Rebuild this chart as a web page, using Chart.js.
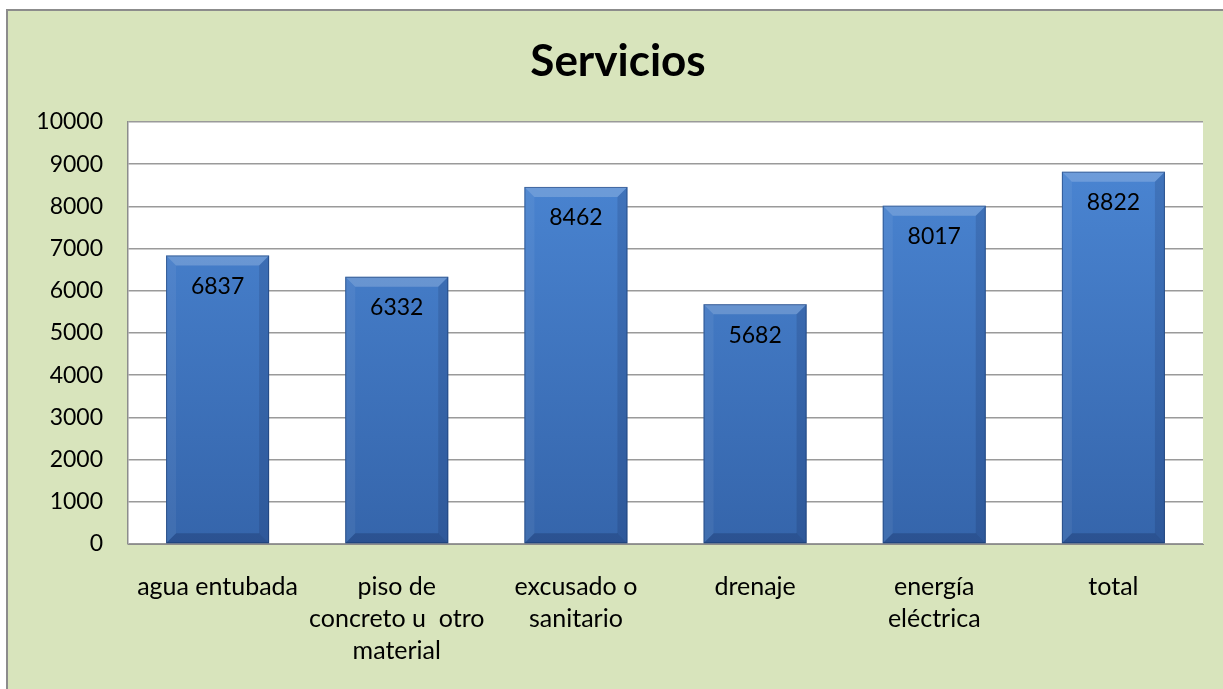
<!DOCTYPE html>
<html>
<head>
<meta charset="utf-8">
<script src="https://cdn.jsdelivr.net/npm/chart.js@4"></script>
<style>
  html, body { margin: 0; padding: 0; background: #ffffff; width: 1223px; height: 689px; overflow: hidden; }
  #frame { position: absolute; left: 6px; top: 9px; width: 1240px; height: 700px; background: #D8E4BC; border-left: 2px solid #8c8c8c; border-top: 2px solid #8c8c8c; }
  #wrap { position: absolute; left: 0; top: 0; width: 1223px; height: 689px; }
</style>
</head>
<body>
<div id="frame"></div>
<div id="wrap"><canvas id="c" width="1223" height="689"></canvas></div>
<script>
const categories = [
  "agua entubada",
  ["piso de", "concreto u  otro", "material"],
  ["excusado o", "sanitario"],
  "drenaje",
  ["energía", "eléctrica"],
  "total"
];
const values = [6837, 6332, 8462, 5682, 8017, 8822];
const titleText = "Servicios";
const yMin = 0, yMax = 10000, yStep = 1000;

const FONT = "Lato, 'Open Sans', sans-serif";

const plotBg = {
  id: 'plotBg',
  beforeDraw(chart) {
    const { ctx, chartArea: a } = chart;
    ctx.save();
    ctx.fillStyle = '#ffffff';
    ctx.fillRect(a.left, a.top, a.right - a.left, a.bottom - a.top);
    ctx.restore();
  }
};

const titlePlugin = {
  id: 'titleText',
  afterDraw(chart) {
    const { ctx } = chart;
    ctx.save();
    ctx.fillStyle = '#000000';
    ctx.font = 'bold 44px ' + FONT;
    ctx.textAlign = 'center';
    ctx.textBaseline = 'middle';
    ctx.fillText(titleText, 618, 62);
    ctx.restore();
  }
};

const bevel = {
  id: 'bevel',
  afterDatasetsDraw(chart) {
    const { ctx } = chart;
    const meta = chart.getDatasetMeta(0);
    ctx.save();
    meta.data.forEach((bar, i) => {
      const w = bar.width, l = bar.x - w / 2, r = bar.x + w / 2, t = bar.y, b = bar.base;
      const k = 10;
      ctx.fillStyle = 'rgba(255,255,255,0.20)';
      ctx.beginPath(); ctx.moveTo(l, t); ctx.lineTo(r, t); ctx.lineTo(r - k, t + k); ctx.lineTo(l + k, t + k); ctx.closePath(); ctx.fill();
      ctx.fillStyle = 'rgba(255,255,255,0.06)';
      ctx.beginPath(); ctx.moveTo(l, t); ctx.lineTo(l + k, t + k); ctx.lineTo(l + k, b - k); ctx.lineTo(l, b); ctx.closePath(); ctx.fill();
      ctx.fillStyle = 'rgba(0,0,30,0.12)';
      ctx.beginPath(); ctx.moveTo(r, t); ctx.lineTo(r - k, t + k); ctx.lineTo(r - k, b - k); ctx.lineTo(r, b); ctx.closePath(); ctx.fill();
      ctx.fillStyle = 'rgba(0,0,30,0.18)';
      ctx.beginPath(); ctx.moveTo(l, b); ctx.lineTo(l + k, b - k); ctx.lineTo(r - k, b - k); ctx.lineTo(r, b); ctx.closePath(); ctx.fill();
      ctx.strokeStyle = 'rgba(20,50,100,0.5)';
      ctx.lineWidth = 1;
      ctx.strokeRect(l + 0.5, t + 0.5, w - 1, b - t - 1);
      ctx.fillStyle = '#000000';
      ctx.font = '23px ' + FONT;
      ctx.textAlign = 'center';
      ctx.textBaseline = 'middle';
      ctx.fillText(String(values[i]), bar.x, t + 31);
    });
    ctx.restore();
  }
};

const ctx = document.getElementById('c').getContext('2d');
new Chart(ctx, {
  type: 'bar',
  data: {
    labels: categories,
    datasets: [{
      data: values,
      backgroundColor: (c) => {
        const a = c.chart.chartArea;
        if (!a) return '#4a84d0';
        const g = c.chart.ctx.createLinearGradient(0, a.top, 0, a.bottom);
        g.addColorStop(0, '#4C88D6');
        g.addColorStop(1, '#3565AB');
        return g;
      },
      borderWidth: 0,
      categoryPercentage: 1,
      barPercentage: 0.575
    }]
  },
  options: {
    responsive: false,
    animation: false,
    devicePixelRatio: 1,
    layout: { padding: { left: 0, right: 20, top: 122, bottom: 0 } },
    plugins: {
      legend: { display: false },
      tooltip: { enabled: false },
      title: { display: false }
    },
    scales: {
      x: {
        grid: { display: false, drawTicks: false },
        border: { display: true, color: '#8c8c8c', width: 1 },
        ticks: { color: '#000000', font: { family: FONT, size: 25, lineHeight: 1.28 }, padding: 27, maxRotation: 0, autoSkip: false },
        afterFit(s) { s.height = 145; }
      },
      y: {
        min: yMin, max: yMax,
        grid: { color: '#9a9a9a', lineWidth: 1.5, drawTicks: false },
        border: { display: true, color: '#8c8c8c', width: 1.5 },
        ticks: { stepSize: yStep, color: '#000000', font: { family: FONT, size: 23 }, padding: 25, callback: (v) => String(v) },
        afterFit(s) { s.width = 128; }
      }
    }
  },
  plugins: [plotBg, bevel, titlePlugin]
});
</script>
</body>
</html>
